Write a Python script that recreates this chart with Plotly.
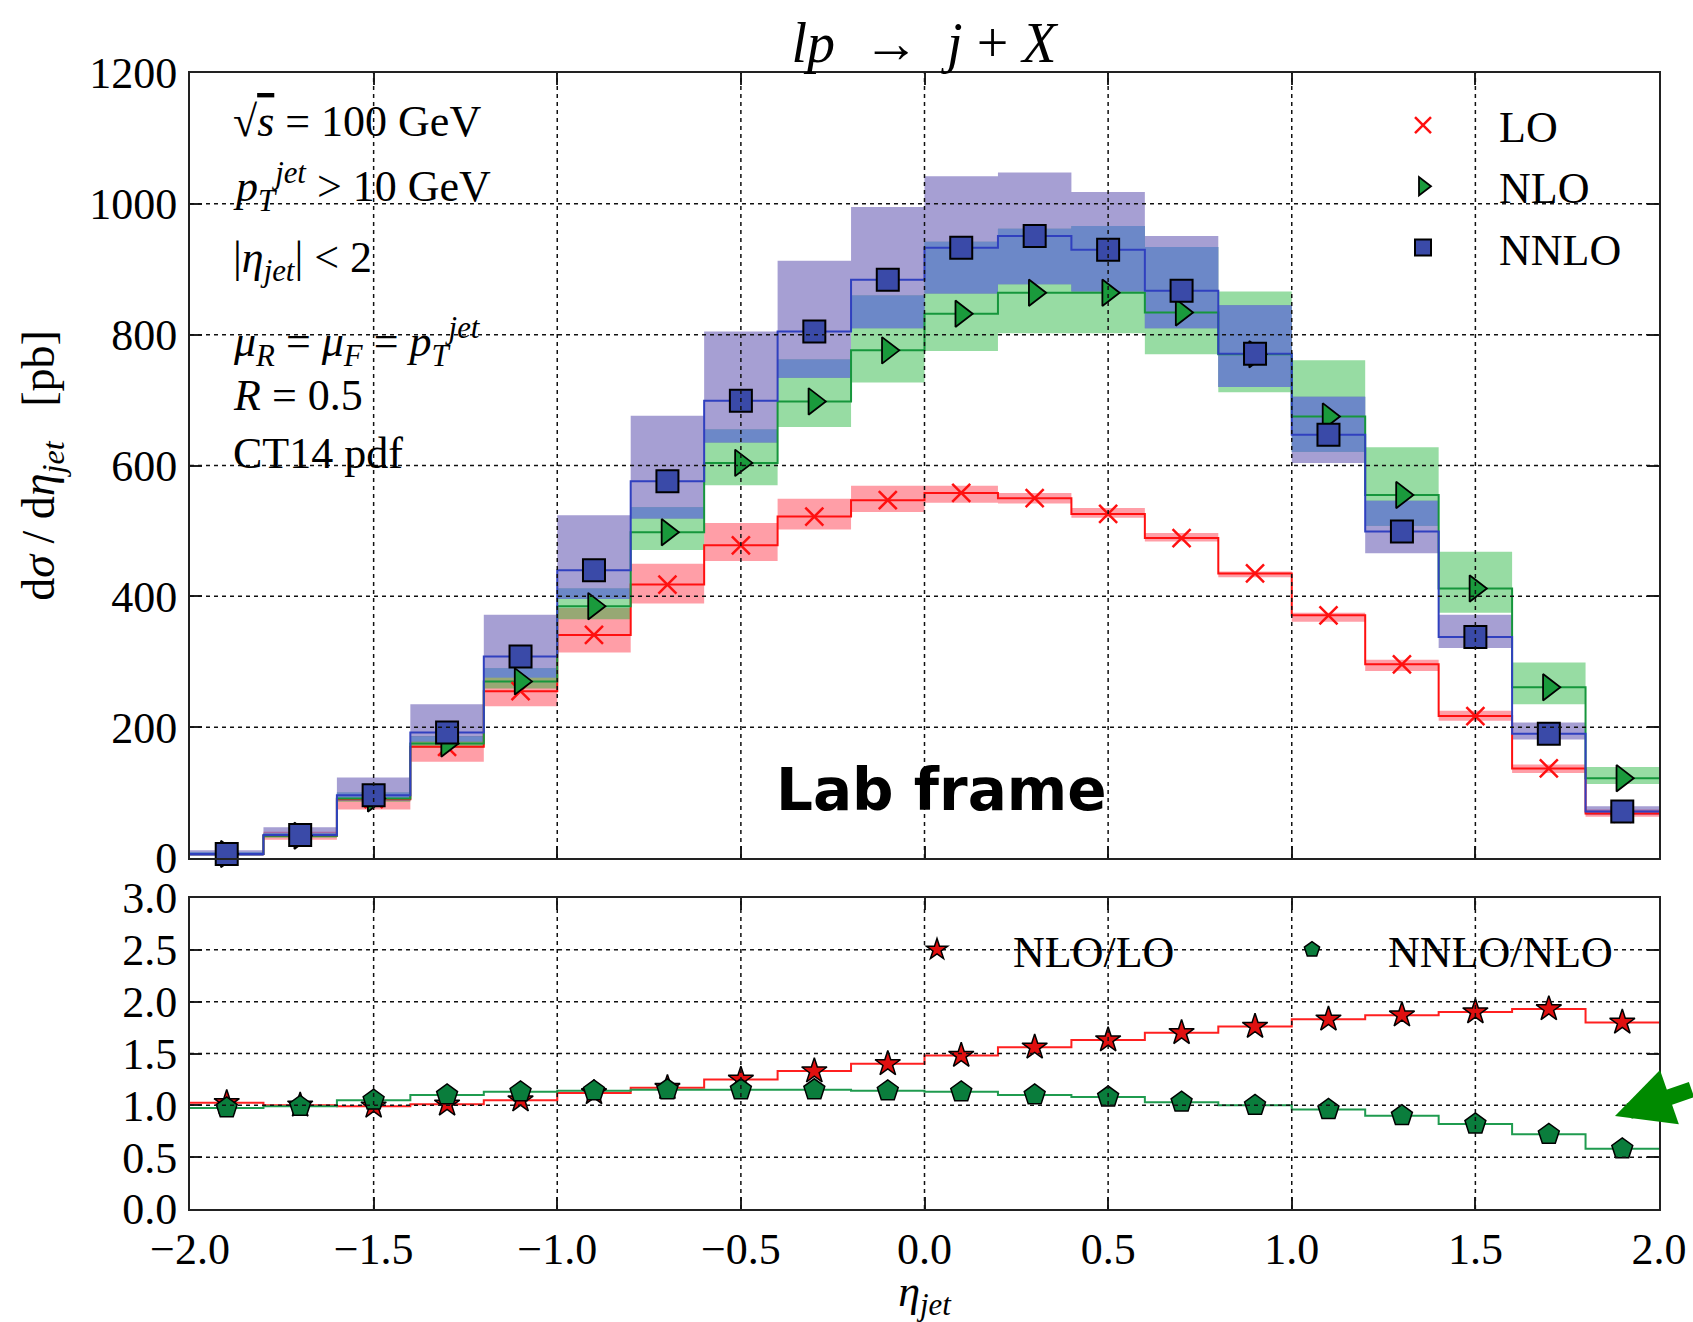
import numpy as np
import plotly.graph_objects as go

# ---------------- data ----------------
eta_edges = [-2.0, -1.8, -1.6, -1.4, -1.2, -1.0, -0.8, -0.6, -0.4, -0.2, 0.0,
             0.2, 0.4, 0.6, 0.8, 1.0, 1.2, 1.4, 1.6, 1.8, 2.0]
eta_centres = [-1.9, -1.7, -1.5, -1.3, -1.1, -0.9, -0.7, -0.5, -0.3, -0.1,
               0.1, 0.3, 0.5, 0.7, 0.9, 1.1, 1.3, 1.5, 1.7, 1.9]

# d sigma / d eta_jet [pb] with scale-variation envelopes
lo = [6, 34, 90, 170, 255, 341, 418, 478, 522, 547,
      558, 550, 526, 489, 435, 371, 296, 217, 137, 68]
lo_low = [3, 28, 74, 147, 232, 314, 389, 454, 502, 529,
          543, 542, 520, 484, 429, 361, 286, 210, 130, 63]
lo_high = [9, 40, 97, 186, 276, 382, 450, 512, 549, 569,
           569, 558, 535, 497, 438, 375, 303, 225, 143, 74]

nlo = [6, 34, 91, 175, 270, 385, 498, 604, 698, 776,
       832, 864, 864, 834, 770, 675, 555, 412, 261, 122]
nlo_low = [4, 31, 86, 168, 259, 365, 471, 570, 659, 727,
           775, 802, 802, 770, 712, 621, 508, 375, 235, 113]
nlo_high = [9, 38, 100, 186, 290, 412, 536, 655, 762, 860,
            942, 962, 966, 934, 866, 761, 628, 468, 299, 139]

nnlo = [6, 35, 96, 192, 308, 440, 576, 699, 805, 884,
        933, 951, 930, 867, 771, 647, 499, 338, 190, 71]
nnlo_low = [3, 32, 88, 178, 276, 396, 519, 635, 734, 810,
            863, 877, 866, 810, 720, 604, 466, 321, 181, 66]
nnlo_high = [12, 47, 123, 235, 372, 524, 676, 805, 913, 995,
             1042, 1048, 1018, 951, 845, 705, 546, 372, 207, 79]

# K-factors
ratio_nlo_lo = [1.025, 1.0, 0.99, 1.01, 1.05, 1.12, 1.17, 1.25, 1.33, 1.40,
                1.48, 1.56, 1.63, 1.70, 1.76, 1.83, 1.87, 1.90, 1.93, 1.80]
ratio_nnlo_nlo = [0.975, 0.99, 1.05, 1.10, 1.13, 1.14, 1.15, 1.15, 1.15, 1.14,
                  1.13, 1.10, 1.08, 1.03, 1.00, 0.96, 0.90, 0.82, 0.72, 0.58]

x_ticks = [-2.0, -1.5, -1.0, -0.5, 0.0, 0.5, 1.0, 1.5, 2.0]
y_ticks_top = [0, 200, 400, 600, 800, 1000, 1200]
y_ticks_ratio = [0.0, 0.5, 1.0, 1.5, 2.0, 2.5, 3.0]

# ---------------- geometry helpers ----------------
W, H = 1693, 1322
ML, MR, MT, MB = 190, 34, 73, 113
PW, PH = W - ML - MR, H - MT - MB


def px_x(px):
    return (px - ML) / PW


def px_y(py):
    return (H - MB - py) / PH


def step(vals):
    """Repeat last value so an 'hv' line spans the final bin."""
    return list(vals) + [vals[-1]]


SERIF = "Liberation Serif, Times New Roman, serif"
RED = "#ff1010"
GREEN_LINE = "#16963c"
BLUE_LINE = "#3040bf"

fig = go.Figure()


def band(low, high, color, xa="x", ya="y"):
    fig.add_trace(go.Scatter(x=eta_edges, y=step(low), mode="lines",
                             line=dict(width=0, shape="hv"), showlegend=False,
                             hoverinfo="skip", xaxis=xa, yaxis=ya))
    fig.add_trace(go.Scatter(x=eta_edges, y=step(high), mode="lines",
                             line=dict(width=0, shape="hv"), fill="tonexty",
                             fillcolor=color, showlegend=False,
                             hoverinfo="skip", xaxis=xa, yaxis=ya))


# scale-variation bands
band(lo_low, lo_high, "rgba(255,40,60,0.45)")
band(nlo_low, nlo_high, "rgba(35,180,60,0.47)")
band(nnlo_low, nnlo_high, "rgba(60,45,160,0.46)")
# region where the NLO and NNLO envelopes overlap
ov_low = np.maximum(nlo_low, nnlo_low)
ov_high = np.minimum(nlo_high, nnlo_high)
ov_high = np.where(ov_high > ov_low, ov_high, ov_low)
band(ov_low.tolist(), ov_high.tolist(), "#6c88c8")

# central step histograms
for vals, col in [(lo, RED), (nlo, GREEN_LINE), (nnlo, BLUE_LINE)]:
    fig.add_trace(go.Scatter(x=eta_edges, y=step(vals), mode="lines",
                             line=dict(color=col, width=2, shape="hv"),
                             showlegend=False, hoverinfo="skip"))

# markers at bin centres (also the legend entries)
fig.add_trace(go.Scatter(
    x=eta_centres, y=lo, mode="markers", name="LO", legendgroup="a",
    marker=dict(symbol="x-thin", size=18, color=RED,
                line=dict(color=RED, width=2.5)), cliponaxis=False))
fig.add_trace(go.Scatter(
    x=eta_centres, y=nlo, mode="markers", name="NLO", legendgroup="b",
    marker=dict(symbol="triangle-right", size=23, color="#1a9a3c",
                line=dict(color="black", width=1.8)), cliponaxis=False))
fig.add_trace(go.Scatter(
    x=eta_centres, y=nnlo, mode="markers", name="NNLO", legendgroup="c",
    marker=dict(symbol="square", size=22, color="#3a4aa8",
                line=dict(color="black", width=2)), cliponaxis=False))

# ---------------- ratio panel ----------------
fig.add_trace(go.Scatter(x=eta_edges, y=step(ratio_nlo_lo), mode="lines",
                         line=dict(color="#ff2020", width=2, shape="hv"),
                         showlegend=False, hoverinfo="skip",
                         xaxis="x2", yaxis="y2"))
fig.add_trace(go.Scatter(x=eta_edges, y=step(ratio_nnlo_nlo), mode="lines",
                         line=dict(color="#1f9b4f", width=2, shape="hv"),
                         showlegend=False, hoverinfo="skip",
                         xaxis="x2", yaxis="y2"))
fig.add_trace(go.Scatter(
    x=eta_centres, y=ratio_nlo_lo, mode="markers", name="NLO/LO",
    legend="legend2", xaxis="x2", yaxis="y2", cliponaxis=False,
    marker=dict(symbol="star", size=19, color="#e01010",
                line=dict(color="black", width=1.5))))
fig.add_trace(go.Scatter(
    x=eta_centres, y=ratio_nnlo_nlo, mode="markers", name="NNLO/NLO",
    legend="legend3", xaxis="x2", yaxis="y2", cliponaxis=False,
    marker=dict(symbol="pentagon", size=22, color="#0a7d3c",
                line=dict(color="black", width=1.5))))

# ---------------- grid lines drawn above the data ----------------
grid = dict(color="#111111", width=1.5, dash="4px,4px")
for ya, yt in [("y", y_ticks_top), ("y2", y_ticks_ratio)]:
    xa = "x" if ya == "y" else "x2"
    for t in x_ticks[1:-1]:
        fig.add_shape(type="line", xref=xa, yref=f"{ya} domain", x0=t, x1=t,
                      y0=0, y1=1, line=grid, layer="above")
    for t in yt[1:-1]:
        fig.add_shape(type="line", xref=f"{xa} domain", yref=ya, x0=0, x1=1,
                      y0=t, y1=t, line=grid, layer="above")

# ---------------- axes ----------------
tick_font = dict(family=SERIF, size=44, color="black")
axis_common = dict(showline=True, linecolor="#222222", linewidth=2,
                   mirror="ticks", ticks="inside", ticklen=12, tickwidth=1.5,
                   tickcolor="#222222", showgrid=False, zeroline=False,
                   tickfont=tick_font, automargin=False)

top_dom = [px_y(858), 1.0]
bot_dom = [0.0, px_y(898)]

fig.update_layout(
    width=W, height=H,
    margin=dict(l=ML, r=MR, t=MT, b=MB, autoexpand=False),
    paper_bgcolor="white", plot_bgcolor="white",
    xaxis=dict(domain=[0, 1], anchor="y", range=[-2, 2], tickvals=x_ticks,
               showticklabels=False, matches="x2", **axis_common),
    yaxis=dict(domain=top_dom, anchor="x", range=[0, 1200],
               tickvals=y_ticks_top, ticklabelstandoff=2,
               title=dict(text="d<i>σ</i> / d<i>η</i><sub><i>jet</i></sub>   [pb]",
                          font=dict(family=SERIF, size=46), standoff=20),
               **axis_common),
    xaxis2=dict(domain=[0, 1], anchor="y2", range=[-2, 2], tickvals=x_ticks,
                tickformat=".1f", ticklabelstandoff=0,
                title=dict(text="<i>η</i><sub><i>jet</i></sub>",
                           font=dict(family=SERIF, size=44), standoff=20),
                **axis_common),
    yaxis2=dict(domain=bot_dom, anchor="x2", range=[0, 3],
                tickvals=y_ticks_ratio, tickformat=".1f", ticklabelstandoff=2,
                **axis_common),
    title=dict(text="<i>lp</i>  →  <i>j</i> + <i>X</i>", x=px_x(924),
               xref="paper", xanchor="center", y=1 - 42 / H, yref="container",
               yanchor="middle", font=dict(family=SERIF, size=56, color="black")),
    font=dict(family=SERIF, color="black"),
    legend=dict(x=px_x(1347), y=px_y(90), xanchor="left", yanchor="top",
                bgcolor="rgba(0,0,0,0)", font=dict(family=SERIF, size=44),
                itemwidth=142, tracegroupgap=1, traceorder="grouped"),
    legend2=dict(x=px_x(937 - 76), y=px_y(950), xanchor="left",
                 yanchor="middle", bgcolor="rgba(0,0,0,0)",
                 font=dict(family=SERIF, size=44), itemwidth=142),
    legend3=dict(x=px_x(1312 - 76), y=px_y(950), xanchor="left",
                 yanchor="middle", bgcolor="rgba(0,0,0,0)",
                 font=dict(family=SERIF, size=44), itemwidth=142),
)

# ---------------- text ----------------
info_lines = [
    ("√<span style='text-decoration:overline'><i>s</i></span> = 100 GeV", 122),
    ("<i>p</i><sub><i>T</i></sub><sup><i>jet</i></sup> > 10 GeV", 187),
    ("|<i>η</i><sub><i>jet</i></sub>| < 2", 260),
    ("<i>μ</i><sub><i>R</i></sub> = <i>μ</i><sub><i>F</i></sub> = "
     "<i>p</i><sub><i>T</i></sub><sup><i>jet</i></sup>", 342),
    ("<i>R</i> = 0.5", 395),
    ("CT14 pdf", 453),
]
for txt, py in info_lines:
    fig.add_annotation(text=txt, xref="paper", yref="paper", x=px_x(231),
                       y=px_y(py), xanchor="left", yanchor="middle",
                       showarrow=False,
                       font=dict(family=SERIF, size=44, color="black"))

fig.add_annotation(text="<b>Lab frame</b>", xref="paper", yref="paper",
                   x=px_x(941), y=px_y(790), xanchor="center",
                   yanchor="middle", showarrow=False,
                   font=dict(family="DejaVu Sans, sans-serif", size=58,
                             color="black"))

# pointer to the last NNLO/NLO bin
fig.add_annotation(text="", xref="paper", yref="paper", x=px_x(1615),
                   y=px_y(1116), ax=150, ay=-27, showarrow=True, arrowhead=2,
                   arrowsize=0.72, arrowwidth=16, arrowcolor="#008a00",
                   standoff=0)

fig.write_html("out.html")
